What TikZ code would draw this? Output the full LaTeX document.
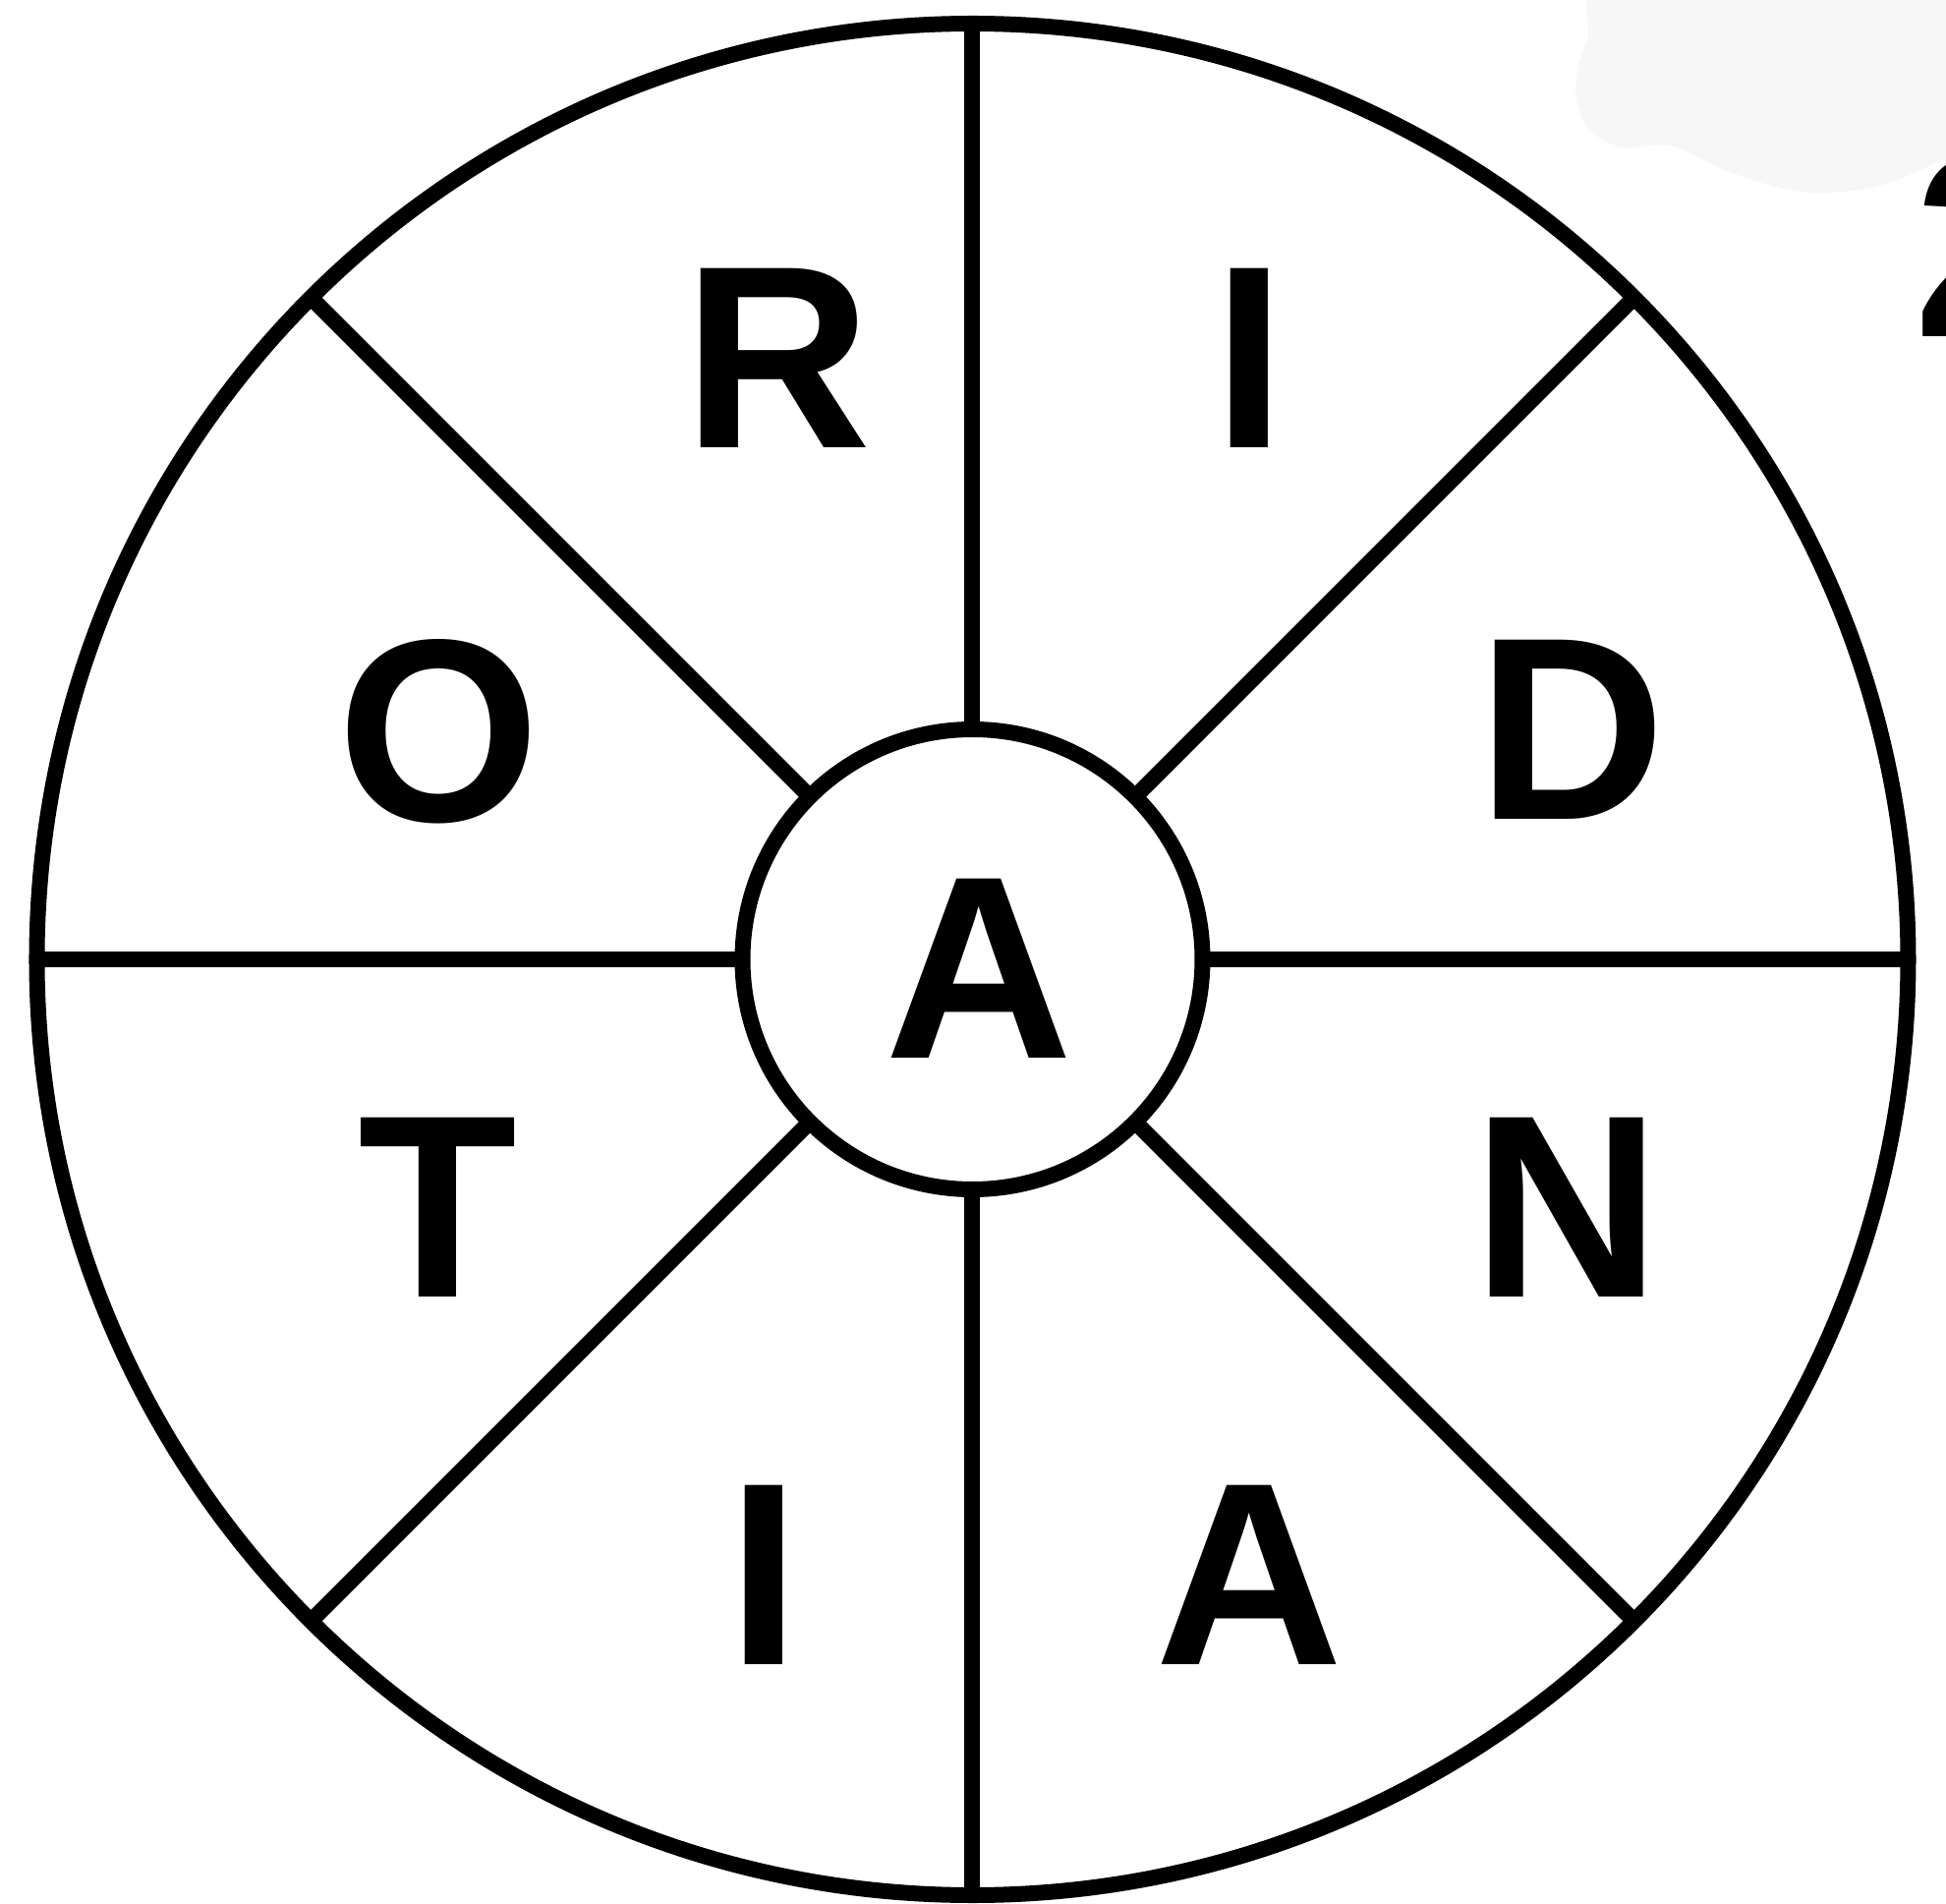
\documentclass[tikz,border=0pt]{standalone}
\usepackage{fontspec}
\setmainfont{Liberation Sans}
\usepackage{xcolor}
\usepackage{tikz}
\usetikzlibrary{calc,positioning}

\tikzset{
	letter/.style={font=\fontsize{75.4pt}{80pt}\selectfont\bfseries, inner sep=0pt},
	hubcircle/.style={circle, draw, minimum size=4.68cm, inner sep=0pt, outer sep=0pt}
}

\begin{document}
\begin{tikzpicture}[line width=0.16cm]
		\useasboundingbox (-9.895,-9.61) rectangle (9.905,9.76);
		
		% faint smudge in the corner
		\fill[black!3] plot[smooth cycle] coordinates {(6.605,10.06) (6.255,9.36) (6.135,8.86) (6.255,8.46) (6.605,8.26) (7.105,8.28) (7.705,8.01) (8.405,7.81) (9.105,7.84) (9.705,8.06) (10.305,8.46) (10.305,10.06)};
		\node[letter, anchor=west] (two) at (9.495,7.26) {2};
		
		\draw (0,0) circle (9.52);
		\node[hubcircle] (hub) at (0,0) {};
		
		\draw (hub.90) -- (90:9.52);
		\draw (hub.45) -- (45:9.52);
		\draw (hub.0) -- (0:9.52);
		\draw (hub.-45) -- (-45:9.52);
		\draw (hub.-90) -- (-90:9.52);
		\draw (hub.-135) -- (-135:9.52);
		\draw (hub.180) -- (180:9.52);
		\draw (hub.135) -- (135:9.52);
		
		\node[letter] (mid) at (0.065,-0.095) {A};
		\node[letter] (r) at (-1.98,6.12) {R};
		\node[letter] (i1) at (2.82,6.12) {I};
		\node[letter] (d) at (6.10,2.34) {D};
		\node[letter] (n) at (6.05,-2.52) {N};
		\node[letter] (a2) at (2.82,-6.26) {A};
		\node[letter] (i2) at (-2.12,-6.26) {I};
		\node[letter] (t) at (-5.44,-2.52) {T};
		\node[letter] (o) at (-5.43,2.32) {O};
	\end{tikzpicture}
\end{document}
